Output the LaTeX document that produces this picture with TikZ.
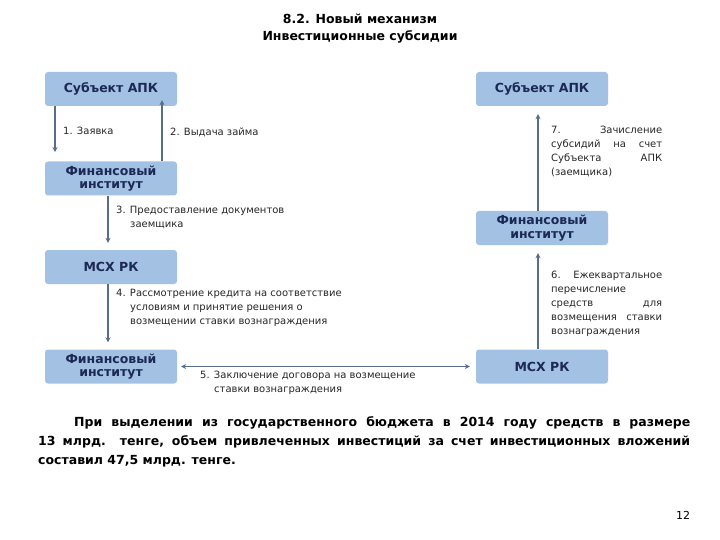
\documentclass[tikz,border=0pt]{standalone}
\usepackage{fontspec}
\setmainfont{DejaVu Sans}
\usetikzlibrary{arrows.meta}
\definecolor{boxfill}{RGB}{163,193,227}
\definecolor{boxtext}{RGB}{28,40,85}
\definecolor{arrowc}{RGB}{85,110,140}
\tikzset{
  box/.style={fill=boxfill,rounded corners=3pt,minimum width=132pt,minimum height=34pt,inner sep=2pt,align=center,text=boxtext,font=\fontsize{12.5}{13.5}\selectfont\bfseries},
  lab/.style={anchor=north west,align=left,inner sep=0pt,font=\fontsize{10}{14}\selectfont,text=black!85},
  arr/.style={draw=arrowc,line width=1.4pt,-{Stealth[length=5pt,width=5pt]}}
}
\begin{document}
\begin{tikzpicture}[x=1pt,y=-1pt]
\useasboundingbox (0,0) rectangle (720,540);
\node[font=\fontsize{12.5}{17}\selectfont\bfseries,align=center] (title) at (360,29) {8.2. Новый механизм\\Инвестиционные субсидии};
\node[box] (s1) at (111,89) {Субъект АПК};
\node[box] (f1) at (111,178.5) {Финансовый\\институт};
\node[box] (m1) at (111,267) {МСХ РК};
\node[box] (f2) at (111,366.5) {Финансовый\\институт};
\node[box] (s2) at (542,89) {Субъект АПК};
\node[box] (f3) at (542,228) {Финансовый\\институт};
\node[box] (m2) at (542,366.5) {МСХ РК};
\coordinate (a1s) at (55,106); \coordinate (a1e) at (55,152);
\draw[arr] (a1s) -- (a1e);
\draw[arr] ([xshift=51pt]f1.north) -- ([xshift=51pt,yshift=6pt]s1.south);
\draw[arr] ([xshift=-3pt]f1.south) -- ([xshift=-3pt,yshift=7pt]m1.north);
\draw[arr] ([xshift=-3pt]m1.south) -- ([xshift=-3pt,yshift=7pt]f2.north);
\draw[draw=arrowc,line width=1.4pt,{Stealth[length=5pt,width=5pt]}-{Stealth[length=5pt,width=5pt]}] ([xshift=4pt]f2.east) -- ([xshift=-6pt]m2.west);
\draw[arr] ([xshift=-4pt]m2.north) -- ([xshift=-4pt,yshift=-8pt]f3.south);
\draw[arr] ([xshift=-4pt]f3.north) -- ([xshift=-4pt,yshift=-8pt]s2.south);
\node[lab] (l1) at (63,127) {1. Заявка};
\node[lab] (l2) at (170,128) {2. Выдача займа};
\node[lab] (l3) at (116,206) {3. Предоставление документов\\\hspace*{14pt}заемщика};
\node[lab] (l4) at (116,289) {4. Рассмотрение кредита на соответствие\\\hspace*{14pt}условиям и принятие решения о\\\hspace*{14pt}возмещении ставки вознаграждения};
\node[lab] (l5) at (200,371) {5. Заключение договора на возмещение\\\hspace*{14pt}ставки вознаграждения};
\node[lab,text width=111pt] (l7) at (551,126) {7.\hfill Зачисление\\субсидий\hfill на\hfill счет\\Субъекта\hfill АПК\\(заемщика)};
\node[lab,text width=111pt] (l6) at (551,271) {6.\hfill Ежеквартальное\\перечисление\\средств\hfill для\\возмещения\hfill ставки\\вознаграждения};
\node[anchor=north west,inner sep=0pt,text width=652pt,align=justify,font=\fontsize{12.5}{19}\selectfont\bfseries] (p) at (38,416) {\hspace*{36pt}При выделении из государственного бюджета в 2014 году средств в размере 13 млрд. тенге, объем привлеченных инвестиций за счет инвестиционных вложений составил 47,5 млрд. тенге.};
\node[font=\fontsize{11}{12}\selectfont] (pg) at (683,515) {12};
\end{tikzpicture}
\end{document}
